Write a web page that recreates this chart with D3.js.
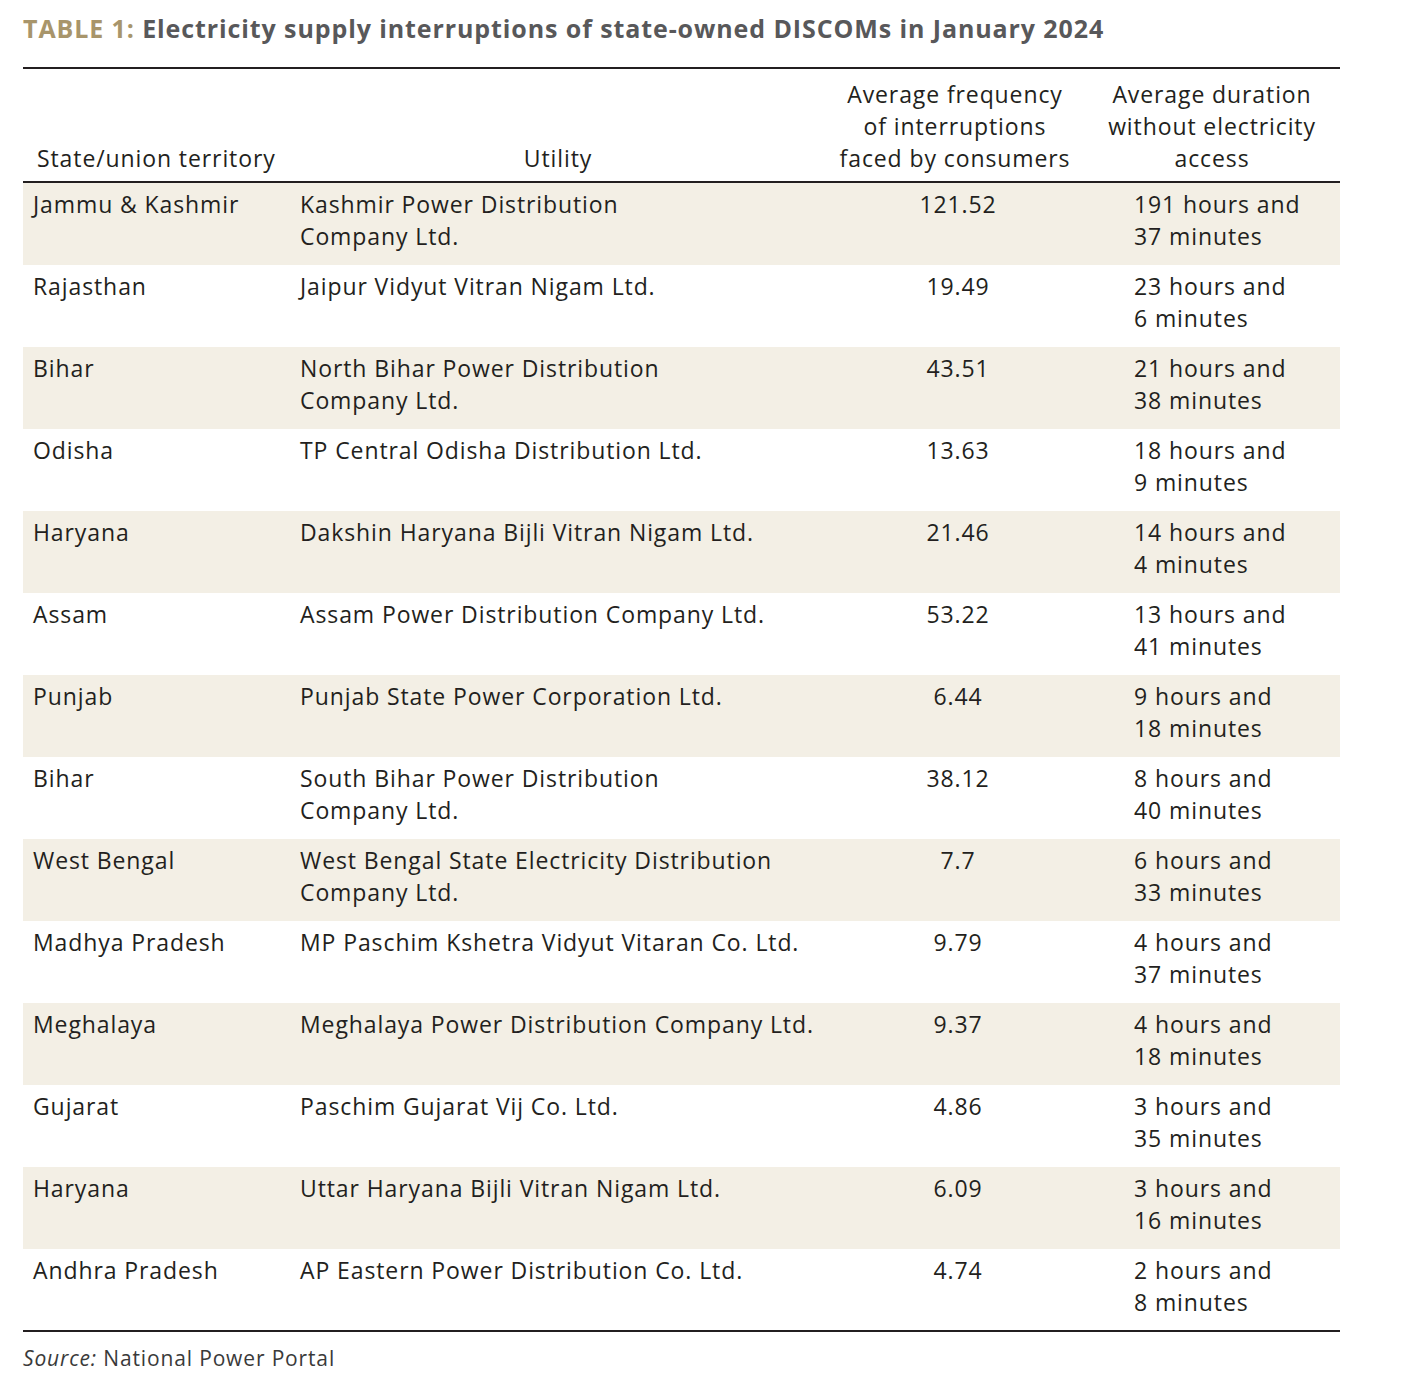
<!DOCTYPE html>
<html><head><meta charset="utf-8">
<script src="https://cdn.jsdelivr.net/npm/d3@7"></script>
<style>body{margin:0;background:#fff;} svg{display:block;}</style>
</head><body>
<script>
const states = ["Jammu & Kashmir","Rajasthan","Bihar","Odisha","Haryana","Assam","Punjab","Bihar","West Bengal","Madhya Pradesh","Meghalaya","Gujarat","Haryana","Andhra Pradesh"];
const utilities = [
 ["Kashmir Power Distribution","Company Ltd."],
 ["Jaipur Vidyut Vitran Nigam Ltd."],
 ["North Bihar Power Distribution","Company Ltd."],
 ["TP Central Odisha Distribution Ltd."],
 ["Dakshin Haryana Bijli Vitran Nigam Ltd."],
 ["Assam Power Distribution Company Ltd."],
 ["Punjab State Power Corporation Ltd."],
 ["South Bihar Power Distribution","Company Ltd."],
 ["West Bengal State Electricity Distribution","Company Ltd."],
 ["MP Paschim Kshetra Vidyut Vitaran Co. Ltd."],
 ["Meghalaya Power Distribution Company Ltd."],
 ["Paschim Gujarat Vij Co. Ltd."],
 ["Uttar Haryana Bijli Vitran Nigam Ltd."],
 ["AP Eastern Power Distribution Co. Ltd."]
];
const frequencies = ["121.52","19.49","43.51","13.63","21.46","53.22","6.44","38.12","7.7","9.79","9.37","4.86","6.09","4.74"];
const durationHours = [191,23,21,18,14,13,9,8,6,4,4,3,3,2];
const durationMinutes = [37,6,38,9,4,41,18,40,33,37,18,35,16,8];
const headers = [
 {lines:["State/union territory"], x:37, anchor:"start"},
 {lines:["Utility"], x:558, anchor:"middle"},
 {lines:["Average frequency","of interruptions","faced by consumers"], x:955, anchor:"middle"},
 {lines:["Average duration","without electricity","access"], x:1212, anchor:"middle"}
];

const W=1426,H=1392;
const font = "'Open Sans', sans-serif";
const txt = "#231f20";
const fs = 23, ls = 0.9;
const svg = d3.select("body").append("svg").attr("width",W).attr("height",H);

const left=23,right=1340;
const y = d3.scaleBand().domain(d3.range(states.length)).range([183,1331]).padding(0);

// title
const title = svg.append("text").attr("x",23).attr("y",38).attr("font-family",font)
  .attr("font-size",25).attr("font-weight",700).attr("letter-spacing",0.9);
title.append("tspan").attr("fill","#a8956b").text("TABLE 1: ");
title.append("tspan").attr("fill","#58585a").text("Electricity supply interruptions of state-owned DISCOMs in January 2024");

// bands
svg.selectAll("rect.band").data(d3.range(states.length).filter(i=>i%2===0)).join("rect")
  .attr("x",left).attr("width",right-left).attr("y",i=>y(i)).attr("height",y.bandwidth())
  .attr("fill","#f3efe5");

// rules
[68,182,1331].forEach(v=>{
  svg.append("line").attr("x1",left).attr("x2",right).attr("y1",v).attr("y2",v)
    .attr("stroke",txt).attr("stroke-width",2);
});

function t(sel,x,yy,s,anchor){
  return sel.append("text").attr("x",x).attr("y",yy).attr("text-anchor",anchor||"start")
    .attr("font-family",font).attr("font-size",fs).attr("letter-spacing",ls).attr("fill",txt).text(s);
}

// headers
headers.forEach(h=>{
  const n=h.lines.length;
  h.lines.forEach((l,k)=>t(svg,h.x,167-(n-1-k)*32,l,h.anchor));
});

// rows
const rows = svg.selectAll("g.row").data(d3.range(states.length)).join("g")
  .attr("transform",i=>`translate(0,${y(i)})`);
rows.each(function(i){
  const g=d3.select(this);
  t(g,33,30,states[i]);
  utilities[i].forEach((l,k)=>t(g,300,30+k*32,l));
  t(g,958,30,frequencies[i],"middle");
  t(g,1134,30,`${durationHours[i]} hours and`);
  t(g,1134,62,`${durationMinutes[i]} minutes`);
});

// source
const src = svg.append("text").attr("x",23).attr("y",1366).attr("font-family",font).attr("font-size",21)
  .attr("letter-spacing",0.85).attr("fill","#3a3a3a");
src.append("tspan").attr("font-style","italic").text("Source:");
src.append("tspan").text(" National Power Portal");
</script>
</body></html>
